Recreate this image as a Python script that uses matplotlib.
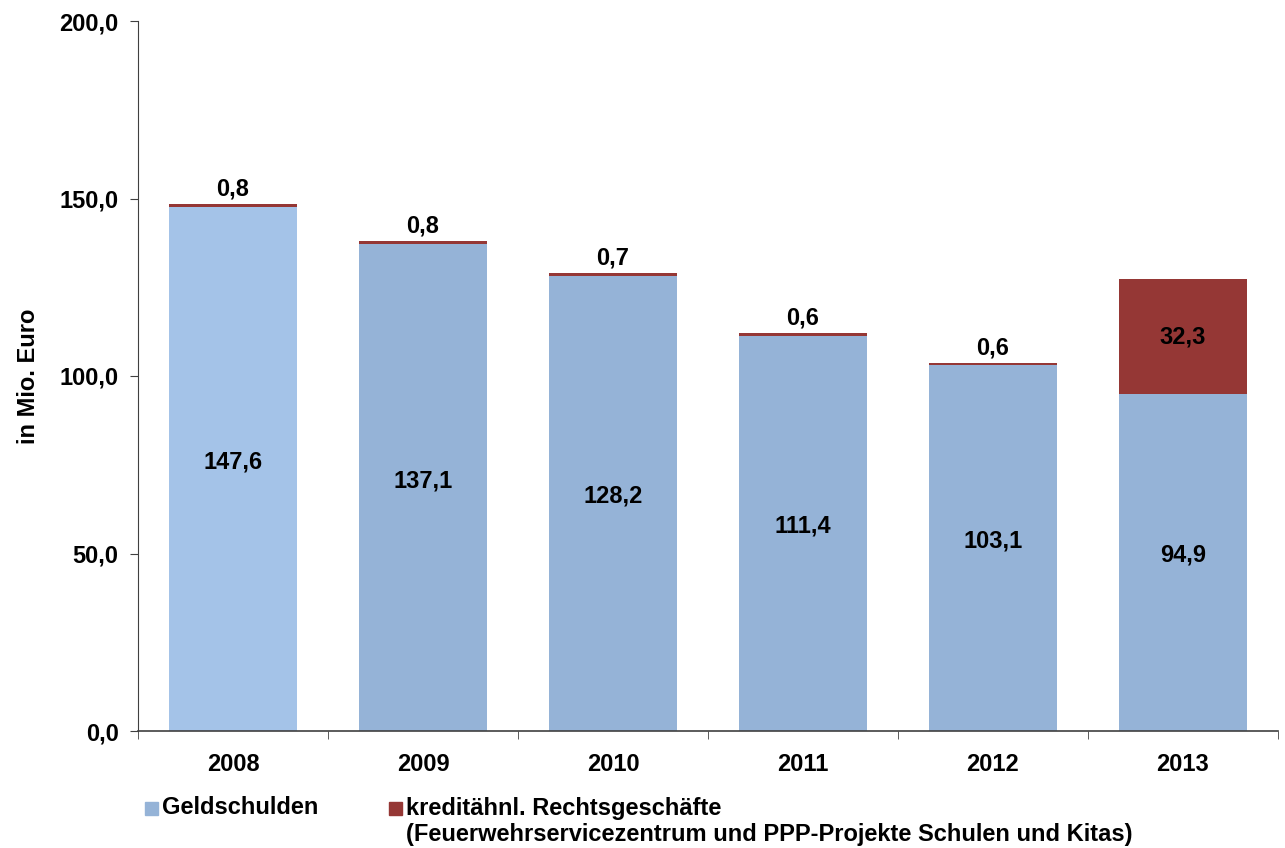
import matplotlib
matplotlib.use("Agg")
import matplotlib.pyplot as plt
from matplotlib.patches import Rectangle

years = ["2008", "2009", "2010", "2011", "2012", "2013"]
geldschulden = [147.6, 137.1, 128.2, 111.4, 103.1, 94.9]
kredit = [0.8, 0.8, 0.7, 0.6, 0.6, 32.3]
yticks = [0, 50, 100, 150, 200]

blue = "#95B3D7"
blue_light = "#A4C3E8"
red = "#953735"
FS = 17

plt.rcParams['font.family'] = ['Liberation Sans', 'DejaVu Sans']
plt.rcParams['font.weight'] = 'bold'

fig = plt.figure(figsize=(12.85, 8.48), dpi=100)
ax = fig.add_axes([138/1285, 1-731/848, 1140/1285, 710/848])

x = list(range(len(years)))
colors = [blue_light] + [blue] * (len(years) - 1)
ax.bar(x, geldschulden, width=0.67, color=colors, zorder=2)
ax.bar(x, kredit, width=0.67, bottom=geldschulden, color=red, zorder=2)

def fmt(v):
    return f"{v:.1f}".replace(".", ",")

for i in x:
    ax.text(i, geldschulden[i] / 2 + 2, fmt(geldschulden[i]), ha="center", va="center",
            fontsize=FS, fontweight="bold", color="black", zorder=3)
    top = geldschulden[i] + kredit[i]
    if kredit[i] < 5:
        ax.text(i, top + 1.0, fmt(kredit[i]), ha="center", va="bottom",
                fontsize=FS, fontweight="bold", color="black", zorder=3)
    else:
        ax.text(i, geldschulden[i] + kredit[i] / 2, fmt(kredit[i]), ha="center", va="center",
                fontsize=FS, fontweight="bold", color="black", zorder=3)

ax.set_xlim(-0.5, len(years) - 0.5)
ax.set_ylim(0, 200)
ax.set_yticks(yticks)
ax.set_yticklabels([fmt(v) for v in yticks], fontsize=FS, fontweight="bold")
ax.set_xticks(x)
ax.set_xticklabels(years, fontsize=FS, fontweight="bold")
ax.tick_params(axis="x", length=0, pad=16)
ax.set_xticks([i - 0.5 for i in range(len(years) + 1)], minor=True)
ax.tick_params(axis="x", which="minor", length=6, direction="out", color="#404040")
ax.tick_params(axis="y", length=6, direction="out", color="#404040", pad=8)
for s in ["top", "right"]:
    ax.spines[s].set_visible(False)
ax.spines["left"].set_color("#404040")
ax.spines["bottom"].set_color("#404040")
ax.spines["bottom"].set_linewidth(1.2)

ax.set_ylabel("in Mio. Euro", fontsize=FS, fontweight="bold", labelpad=14)

# Legend
fig.patches.append(Rectangle((145/1285, 1-815/848), 13/1285, 13/848,
                             transform=fig.transFigure, color=blue, figure=fig))
fig.text(162/1285, 1-808/848, "Geldschulden", fontsize=FS, fontweight="bold",
         ha="left", va="center")
fig.patches.append(Rectangle((389/1285, 1-815/848), 13/1285, 13/848,
                             transform=fig.transFigure, color=red, figure=fig))
fig.text(406/1285, 1-808/848, "kreditähnl. Rechtsgeschäfte", fontsize=FS,
         fontweight="bold", ha="left", va="center")
fig.text(406/1285, 1-835/848,
         "(Feuerwehrservicezentrum und PPP-Projekte Schulen und Kitas)",
         fontsize=FS, fontweight="bold", ha="left", va="center")

fig.savefig("out.png", dpi=100)
